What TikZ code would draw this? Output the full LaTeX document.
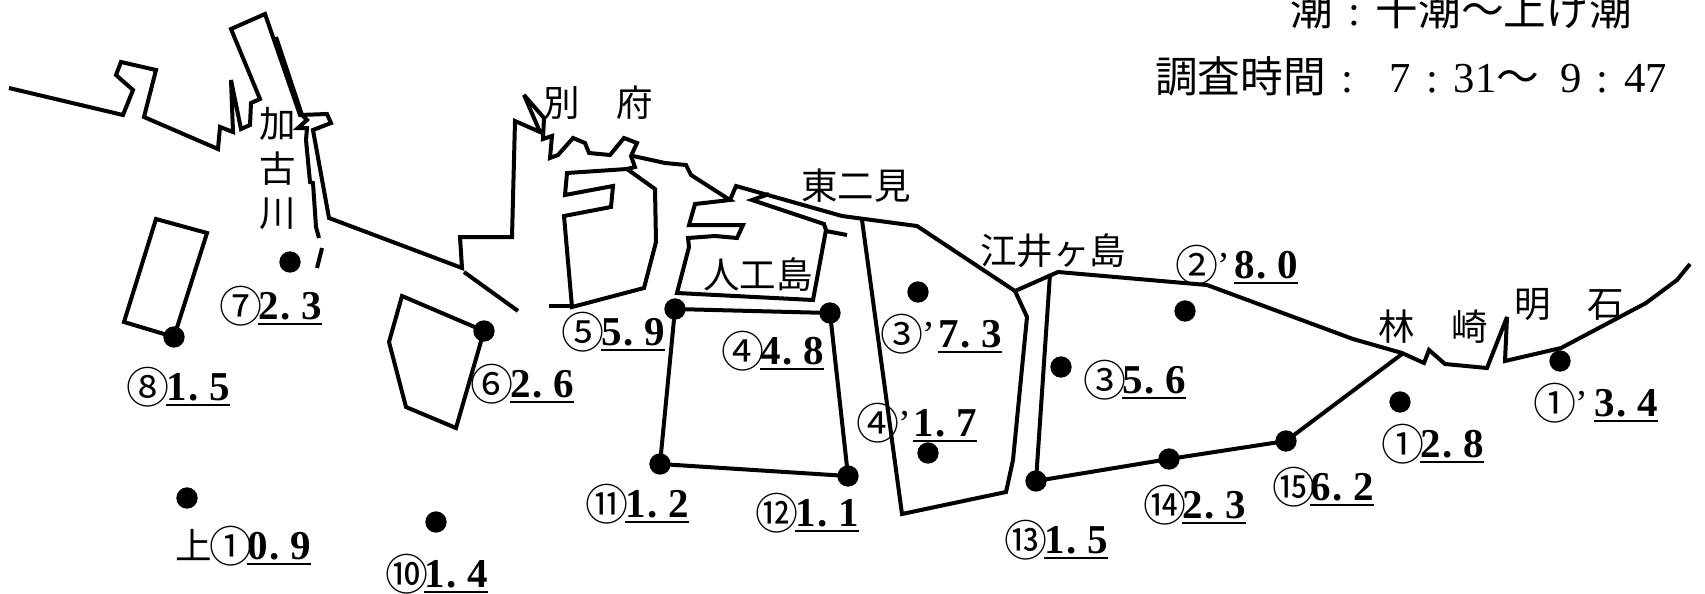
\documentclass[tikz,border=0pt]{standalone}
\usepackage{fontspec}
\setmainfont{Liberation Serif}
\newfontfamily\cjk{Noto Sans CJK JP}
\newdimen\pxu \pxu=0.75pt
\newcommand{\fsz}[1]{\fontsize{#1\pxu}{#1\pxu}\selectfont}
\newcommand{\valbox}[2]{{\bfseries\fsz{41}\rlap{\raisebox{-6\pxu}{\rule{64\pxu}{1.9\pxu}}}\makebox[64\pxu][l]{#1\hspace{2\pxu}.\hfill #2}}}
\newcommand{\cn}[1]{\hspace{-2.5\pxu}\raisebox{-3\pxu}{\cjk\fsz{43}#1}}
\newcommand{\lab}[7]{\node[labeltext] (#1) at (#2,#3) {\makebox[#5\pxu][l]{\fsz{36.5}#4}\valbox{#6}{#7}};}
\newcommand{\prm}{\hspace{-1\pxu}{\rmfamily\fsz{38}’}}
\newcommand{\colonc}{\makebox[42.7\pxu][c]{:}}
\tikzset{
  coast/.style={line width=3pt,miter limit=4},
  mark dot/.style={circle,fill=black,inner sep=0pt,minimum size=16pt},
  labeltext/.style={anchor=base west,inner sep=0pt},
  place/.style={inner sep=0pt,font=\cjk\fsz{36.5}}
}
\begin{document}
\begin{tikzpicture}[x=0.75pt,y=-0.75pt]
\useasboundingbox (0,0) rectangle (1705,593);
% main coast, west to east
\draw[coast] (9,88)--(123,115)--(133,90)--(116,75)--(121,62)--(156,70)--(144,117)--(218,149)--(220,127)--(233,132)--(231,80)--(241,129)--(250,125)--(251,103)--(260,99)--(231,29)--(265,14)--(300,115)--(327,114)--(331,123)--(313,130)--(329,218)--(462,268)--(460,237)--(512,237)--(515,121)--(540,132)--(524,95)--(544,118)--(543,139)--(552,136)--(550,158)--(558,155)--(573,138)--(585,143)--(589,153)--(610,155)--(624,138)--(637,143)--(631,156)--(635,167)--(627,169)--(567,173)--(565,195)--(613,186)--(611,207)--(564,216)--(572,307)--(644,288)--(656,242)--(655,189)--(627,169);
\draw[coast] (549,306)--(572,306);
\draw[coast] (633,156)--(665,163)--(686,165)--(691,175)--(730,200)--(695,204)--(689,225)--(743,225)--(737,238)--(715,236)--(688,238)--(689,247)--(677,293)--(813,300)--(826,230)--(824,224)--(752,200)--(769,194);
\draw[coast] (730,200)--(736,186)--(842,216)--(917,226)--(1015,291)--(1058,272)--(1207,285)--(1353,339)--(1402,353)--(1424,363)--(1429,350)--(1445,364)--(1487,368)--(1507,317)--(1505,361)--(1561,348)--(1646,303)--(1677,280)--(1690,264);
\draw[coast] (826,231)--(847,235);
% river inner bank
\draw[coast] (276,37)--(302,115)--(307,120)--(298,128)--(307,128)--(306,140)--(310,182)--(313,183)--(316,227)--(319,238);
\draw[coast] (322,248)--(317,268);
\draw[coast] (464,272)--(518,311);
% survey areas
\node[mark dot] (d7) at (290,262) {};
\node[mark dot] (d8) at (174,337) {};
\node[mark dot] (d6) at (484,331) {};
\node[mark dot] (du) at (187,498) {};
\node[mark dot] (d10) at (436,522) {};
\node[mark dot] (d5) at (675,309) {};
\node[mark dot] (d4) at (830,313) {};
\node[mark dot] (d12) at (848,476) {};
\node[mark dot] (d11) at (660,464) {};
\node[mark dot] (d3p) at (918,292) {};
\node[mark dot] (d4p) at (928,453) {};
\node[mark dot] (d3) at (1061,367) {};
\node[mark dot] (d13) at (1036,481) {};
\node[mark dot] (d14) at (1169,459) {};
\node[mark dot] (d15) at (1286,441) {};
\node[mark dot] (d2p) at (1185,311) {};
\node[mark dot] (d1) at (1400,402) {};
\node[mark dot] (d1p) at (1560,361) {};
\coordinate (rn) at (1402,354);
\draw[coast] (156,219)--(207,233)--(d8.center)--(124,322)--cycle;
\draw[coast] (402,296)--(d6.center)--(456,428)--(406,407)--(389,342)--cycle;
\draw[coast] (d5.center)--(d4.center)--(d12.center)--(d11.center)--cycle;
\draw[coast] (862,220)--(902,514)--(1006,492)--(1013,460)--(1027,317)--(1015,291);
\draw[coast] (1050,274)--(d13.center)--(d14.center)--(d15.center)--(rn);
% place names
\node[inner sep=0pt,align=center,font=\cjk\fontsize{27.375pt}{33.375pt}\selectfont] (kako) at (278,169) {加\\古\\川};
\node[place] (beppu) at (598,103) {別　府};
\node[place] (futami) at (856,186) {東二見};
\node[place] (jinko) at (758,275) {人工島};
\node[place] (ejima) at (1053,251) {江井ヶ島};
\node[place] (hayashi) at (1433,327) {林　崎};
\node[place] (akashi) at (1569,305) {明　石};
% values
\lab{l7}{222}{319}{\cn{⑦}}{36}{2}{3}
\lab{l8}{129}{400}{\cn{⑧}}{37}{1}{5}
\lab{l6}{473}{397}{\cn{⑥}}{37}{2}{6}
\lab{lu}{175}{559}{{\cjk 上}\cn{①}}{72}{0}{9}
\lab{l10}{388}{587}{\cn{⑩}}{36}{1}{4}
\lab{l5}{564}{345}{\cn{⑤}}{37}{5}{9}
\lab{l4}{724}{364}{\cn{④}}{36}{4}{8}
\lab{l3p}{883}{347}{\cn{③}\prm}{55}{7}{3}
\lab{l4p}{859}{436}{\cn{④}\prm}{54}{1}{7}
\lab{l11}{588}{517}{\cn{⑪}}{37}{1}{2}
\lab{l12}{758}{526}{\cn{⑫}}{37}{1}{1}
\lab{l13}{1007}{553}{\cn{⑬}}{37}{1}{5}
\lab{l2p}{1178}{278}{\cn{②}\prm}{56}{8}{0}
\lab{l3}{1086}{393}{\cn{③}}{36}{5}{6}
\lab{l1}{1384}{457}{\cn{①}}{36}{2}{8}
\lab{l1p}{1536}{416}{\cn{①}\prm}{58}{3}{4}
\lab{l15}{1275}{500}{\cn{⑮}}{35}{6}{2}
\lab{l14}{1146}{518}{\cn{⑭}}{36}{2}{3}
% header
\node[labeltext] (tide) at (1290,25) {\fsz{42.7}{\cjk 潮}\colonc{\cjk 干潮～上げ潮}};
\node[labeltext] (time) at (1155,92) {\fsz{42.7}{\cjk 調査時間}\colonc\hspace{21\pxu}7\colonc 31{\cjk ～}\hspace{21\pxu}9\colonc 47};
\end{tikzpicture}
\end{document}
